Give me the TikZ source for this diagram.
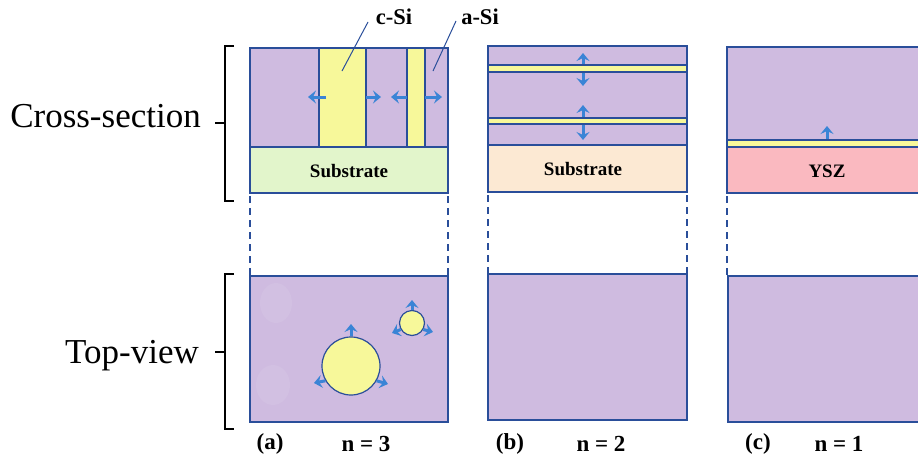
\documentclass[tikz,border=0pt]{standalone}
\usepackage{fontspec}
\setmainfont{Liberation Serif}
\usetikzlibrary{arrows.meta}
\definecolor{pur}{HTML}{CFBBE0}
\definecolor{ghost}{HTML}{D2C0E2}
\definecolor{yel}{HTML}{F7F89A}
\definecolor{grn}{HTML}{E2F5CB}
\definecolor{pch}{HTML}{FCE9D3}
\definecolor{pnk}{HTML}{FAB9C0}
\definecolor{bdr}{HTML}{2A4E9A}
\definecolor{arrc}{HTML}{3A84D6}
\tikzset{
  boxln/.style={draw=bdr,line width=1.5pt},
  thinln/.style={draw=bdr,line width=1.1pt},
  growarr/.style={arrc,line width=3pt,-{Stealth[length=8pt,width=13pt,inset=3pt]}},
  dashv/.style={draw=bdr,line width=1.6pt,dash pattern=on 7pt off 5pt},
  brk/.style={draw=black,line width=1.6pt},
  lbltxt/.style={font=\bfseries\fontsize{22.5}{22.5}\selectfont,inner sep=0pt},
  subtxt/.style={font=\bfseries\fontsize{19}{19}\selectfont,inner sep=0pt},
  captxt/.style={font=\bfseries\fontsize{23}{23}\selectfont,inner sep=0pt},
  sidetxt/.style={font=\fontsize{35}{35}\selectfont,inner sep=0pt}
}
\begin{document}
\begin{tikzpicture}[x=1pt,y=-1pt]
\useasboundingbox (0,0) rectangle (918,461);
\clip (0,0) rectangle (918,461);
% ---------- side labels and brackets
\node[sidetxt,anchor=east] (cs) at (201,116) {Cross-section};
\node[sidetxt,anchor=east] (tv) at (199,356) {Top-view};
\draw[brk] (234,46) -- (225,46) -- (225,201) -- (234,201);
\draw[brk] (215,123) -- (225,123);
\draw[brk] (234,274) -- (225,274) -- (225,429) -- (234,429);
\draw[brk] (215,352) -- (225,352);
% ---------- panel (a) cross-section
\fill[pur] (250,48) rectangle (448,147);
\fill[yel] (319,48) rectangle (366,147);
\fill[yel] (407,48) rectangle (425,147);
\fill[grn] (250,147) rectangle (448,193);
\draw[thinln] (319,48) -- (319,147) (366,48) -- (366,147) (407,48) -- (407,147) (425,48) -- (425,147);
\draw[boxln] (250,48) rectangle (448,193);
\draw[boxln] (250,147) -- (448,147);
\node[subtxt] (suba) at (349,171) {Substrate};
\coordinate (c1) at (326,97); \coordinate (c1t) at (308,97);
\coordinate (c2) at (366,97); \coordinate (c2t) at (381,97);
\coordinate (c3) at (407,97); \coordinate (c3t) at (391,97);
\coordinate (c4) at (425,97); \coordinate (c4t) at (442,97);
\draw[growarr] (c1) -- (c1t);
\draw[growarr] (c2) -- (c2t);
\draw[growarr] (c3) -- (c3t);
\draw[growarr] (c4) -- (c4t);
\node[lbltxt] (csi) at (394,17) {c-Si};
\node[lbltxt] (asi) at (480,17) {a-Si};
\coordinate (csip) at (342,71);
\coordinate (asip) at (433,71);
\draw[bdr,line width=1pt] (368,22) -- (csip);
\draw[bdr,line width=1pt] (456,21) -- (asip);
% ---------- panel (b) cross-section
\fill[pur] (488,46) rectangle (687,145);
\fill[yel] (488,65) rectangle (687,72);
\fill[yel] (488,118) rectangle (687,124);
\fill[pch] (488,145) rectangle (687,192);
\draw[thinln] (488,65) -- (687,65) (488,72) -- (687,72) (488,118) -- (687,118) (488,124) -- (687,124);
\draw[boxln] (488,46) rectangle (687,192);
\draw[boxln] (488,145) -- (687,145);
\node[subtxt] (subb) at (583,169) {Substrate};
\coordinate (b1) at (583,64); \coordinate (b1t) at (583,53);
\coordinate (b2) at (583,73); \coordinate (b2t) at (583,86);
\coordinate (b3) at (583,117); \coordinate (b3t) at (583,105);
\coordinate (b4) at (583,125); \coordinate (b4t) at (583,140);
\draw[growarr] (b1) -- (b1t);
\draw[growarr] (b2) -- (b2t);
\draw[growarr] (b3) -- (b3t);
\draw[growarr] (b4) -- (b4t);
% ---------- panel (c) cross-section
\fill[pur] (727,47) rectangle (930,140);
\fill[yel] (727,140) rectangle (930,147);
\fill[pnk] (727,147) rectangle (930,193);
\draw[thinln] (727,140) -- (930,140);
\draw[boxln] (930,47) -- (727,47) -- (727,193) -- (930,193);
\draw[boxln] (727,147) -- (930,147);
\node[subtxt] (ysz) at (827,171) {YSZ};
\coordinate (y1) at (827,139); \coordinate (y1t) at (827,126);
\draw[growarr] (y1) -- (y1t);
% ---------- dashed guides
\draw[dashv] (250,196) -- (250,276);
\draw[dashv] (448,196) -- (448,276);
\draw[dashv] (488,195) -- (488,274);
\draw[dashv] (687,195) -- (687,274);
\draw[dashv] (727,196) -- (727,276);
% ---------- top views
\fill[pur] (250,276) rectangle (448,422);
\fill[ghost] (276,303) ellipse (16 and 20);
\fill[ghost] (273,385) ellipse (17 and 20);
\draw[boxln] (250,276) rectangle (448,422);
\node[circle,draw=bdr,line width=1.2pt,fill=yel,minimum size=58pt,inner sep=0pt] (big) at (351,366) {};
\node[circle,draw=bdr,line width=1.2pt,fill=yel,minimum size=25pt,inner sep=0pt] (small) at (412,323) {};
\coordinate (g1) at (351,324); \coordinate (g2) at (314,383); \coordinate (g3) at (388,384);
\coordinate (s1) at (412,300); \coordinate (s2) at (392,333); \coordinate (s3) at (433,332);
\draw[growarr] (big.90) -- (g1);
\draw[growarr] (big.210) -- (g2);
\draw[growarr] (big.330) -- (g3);
\draw[growarr] (small.90) -- (s1);
\draw[growarr] (small.210) -- (s2);
\draw[growarr] (small.330) -- (s3);
\fill[pur] (488,274) rectangle (687,420);
\draw[boxln] (488,274) rectangle (687,420);
\fill[pur] (728,276) rectangle (930,422);
\draw[boxln] (930,276) -- (728,276) -- (728,422) -- (930,422);
% ---------- captions
\node[captxt] (la) at (270,444) {(a)};
\node[captxt] (na) at (366,444) {n = 3};
\node[captxt] (lb) at (510,444) {(b)};
\node[captxt] (nb) at (601,444) {n = 2};
\node[captxt] (lc) at (758,444) {(c)};
\node[captxt] (nc) at (839,444) {n = 1};
\end{tikzpicture}
\end{document}
